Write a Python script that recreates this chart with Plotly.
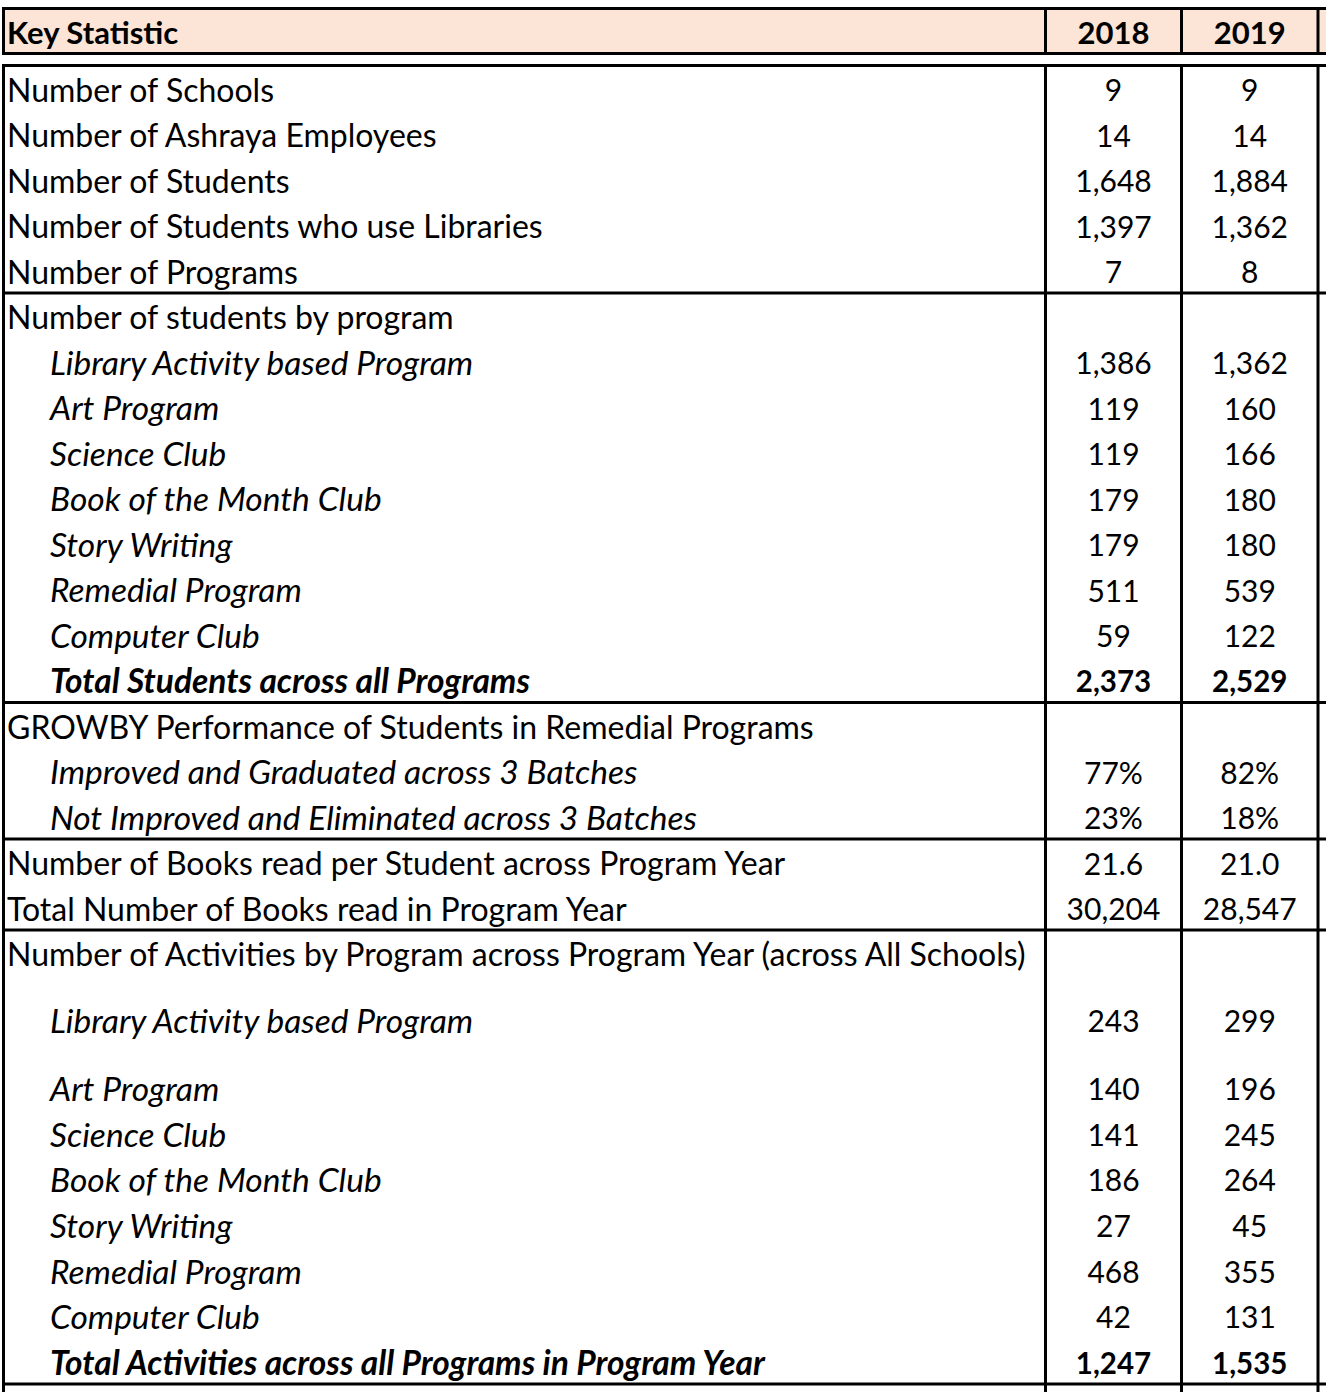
import plotly.graph_objects as go

# ---------------- data ----------------
header_label = "Key Statistic"
years = ["2018", "2019"]

labels = [
    "Number of Schools",
    "Number of Ashraya Employees",
    "Number of Students",
    "Number of Students who use Libraries",
    "Number of Programs",
    "Number of students by program",
    "Library Activity based Program",
    "Art Program",
    "Science Club",
    "Book of the Month Club",
    "Story Writing",
    "Remedial Program",
    "Computer Club",
    "Total Students across all Programs",
    "GROWBY Performance of Students in Remedial Programs",
    "Improved and Graduated across 3 Batches",
    "Not Improved and Eliminated across 3 Batches",
    "Number of Books read per Student across Program Year",
    "Total Number of Books read in Program Year",
    "Number of Activities by Program across Program Year (across All Schools)",
    "Library Activity based Program",
    "Art Program",
    "Science Club",
    "Book of the Month Club",
    "Story Writing",
    "Remedial Program",
    "Computer Club",
    "Total Activities across all Programs in Program Year",
]

v2018 = [9, 14, 1648, 1397, 7, None, 1386, 119, 119, 179, 179, 511, 59, 2373,
         None, 0.77, 0.23, 21.6, 30204, None, 243, 140, 141, 186, 27, 468, 42, 1247]
v2019 = [9, 14, 1884, 1362, 8, None, 1362, 160, 166, 180, 180, 539, 122, 2529,
         None, 0.82, 0.18, 21.0, 28547, None, 299, 196, 245, 264, 45, 355, 131, 1535]

# number format per row
row_fmt = ["int"] * 14 + ["", "pct", "pct", "dec", "int", ""] + ["int"] * 8

# ---------------- style ----------------
# n = normal, i = italic (indented), bi = bold italic (indented)
label_kind = (["n"] * 6 + ["i"] * 7 + ["bi"] + ["n", "i", "i", "n", "n", "n"]
              + ["i"] * 7 + ["bi"])
row_h = [45.5] * 20 + [66.5, 68] + [45.67] * 6
group_ends = [4, 13, 16, 18, 27]

W, H = 1326, 1392
FONT = "Lato"
FS_LABEL, FS_ITAL, FS_HDR, FS_NUM, FS_NUMB = 32, 33.5, 31, 30, 29.5
LW = 3
PEACH = "#FCE4D6"

x_left, x_c1, x_c2, x_c3, x_right = 3.5, 1045.5, 1181.5, 1318, W
hdr_top, hdr_bot, body_top = 8.5, 53.5, 65.5
label_x, indent_x = 7, 50
col_centers = [(x_c1 + x_c2) / 2, (x_c2 + x_c3) / 2]
TEXT_OFF = 17.5


def fmt_val(v, f):
    if v is None:
        return ""
    if f == "int":
        return f"{int(v):,}"
    if f == "pct":
        return f"{v * 100:.0f}%"
    if f == "dec":
        return f"{v:.1f}"
    return str(v)


# row geometry
bottoms = []
acc = body_top
for h in row_h:
    acc += h
    bottoms.append(acc)
text_y = [b - TEXT_OFF for b in bottoms]
hdr_y = hdr_bot - TEXT_OFF

fig = go.Figure()


def add_text(xs, ys, texts, size, weight="normal", style="normal", pos="middle right"):
    fig.add_trace(go.Scatter(
        x=xs, y=ys, text=texts, mode="text", textposition=pos,
        textfont=dict(family=FONT, size=size, color="black", weight=weight, style=style),
        hoverinfo="skip", showlegend=False, cliponaxis=False,
    ))


# header
add_text([label_x], [hdr_y], [header_label], FS_HDR, weight="bold")
add_text(col_centers, [hdr_y] * 2, years, FS_HDR, weight="bold", pos="middle center")

# labels grouped by style
for kind, wt, st, fs in [("n", "normal", "normal", FS_LABEL),
                         ("i", "normal", "italic", FS_ITAL),
                         ("bi", "bold", "italic", FS_ITAL)]:
    idx = [i for i, k in enumerate(label_kind) if k == kind]
    xs = [label_x if kind == "n" else indent_x for _ in idx]
    add_text(xs, [text_y[i] for i in idx], [labels[i] for i in idx], fs, weight=wt, style=st)

# values
for ci, vals in enumerate([v2018, v2019]):
    norm = [i for i, k in enumerate(label_kind) if k != "bi"]
    bold = [i for i, k in enumerate(label_kind) if k == "bi"]
    add_text([col_centers[ci]] * len(norm), [text_y[i] for i in norm],
             [fmt_val(vals[i], row_fmt[i]) for i in norm], FS_NUM, pos="middle center")
    add_text([col_centers[ci]] * len(bold), [text_y[i] for i in bold],
             [fmt_val(vals[i], row_fmt[i]) for i in bold], FS_NUMB, weight="bold",
             pos="middle center")

# shapes: header fill and borders
shapes = [dict(type="rect", xref="x", yref="y", x0=x_left, x1=x_right, y0=hdr_top, y1=hdr_bot,
               fillcolor=PEACH, line=dict(width=0), layer="below")]


def hline(y):
    shapes.append(dict(type="line", xref="x", yref="y", x0=x_left - 1.5, x1=x_right, y0=y, y1=y,
                       line=dict(color="black", width=LW)))


def vline(x, y0, y1):
    shapes.append(dict(type="line", xref="x", yref="y", x0=x, x1=x, y0=y0, y1=y1,
                       line=dict(color="black", width=LW)))


hline(hdr_top)
hline(hdr_bot)
hline(body_top)
for g in group_ends:
    hline(bottoms[g])
for x in (x_left, x_c1, x_c2, x_c3):
    vline(x, hdr_top - 1.5, hdr_bot + 1.5)
    vline(x, body_top - 1.5, H)

fig.update_layout(
    width=W, height=H,
    margin=dict(l=0, r=0, t=0, b=0),
    paper_bgcolor="white", plot_bgcolor="white",
    xaxis=dict(range=[0, W], visible=False, fixedrange=True),
    yaxis=dict(range=[H, 0], visible=False, fixedrange=True),
    shapes=shapes,
)

fig.write_html(
    "out.html",
    config={"displayModeBar": False},
    post_script="document.body.style.margin='0';document.body.style.overflow='hidden';",
)
